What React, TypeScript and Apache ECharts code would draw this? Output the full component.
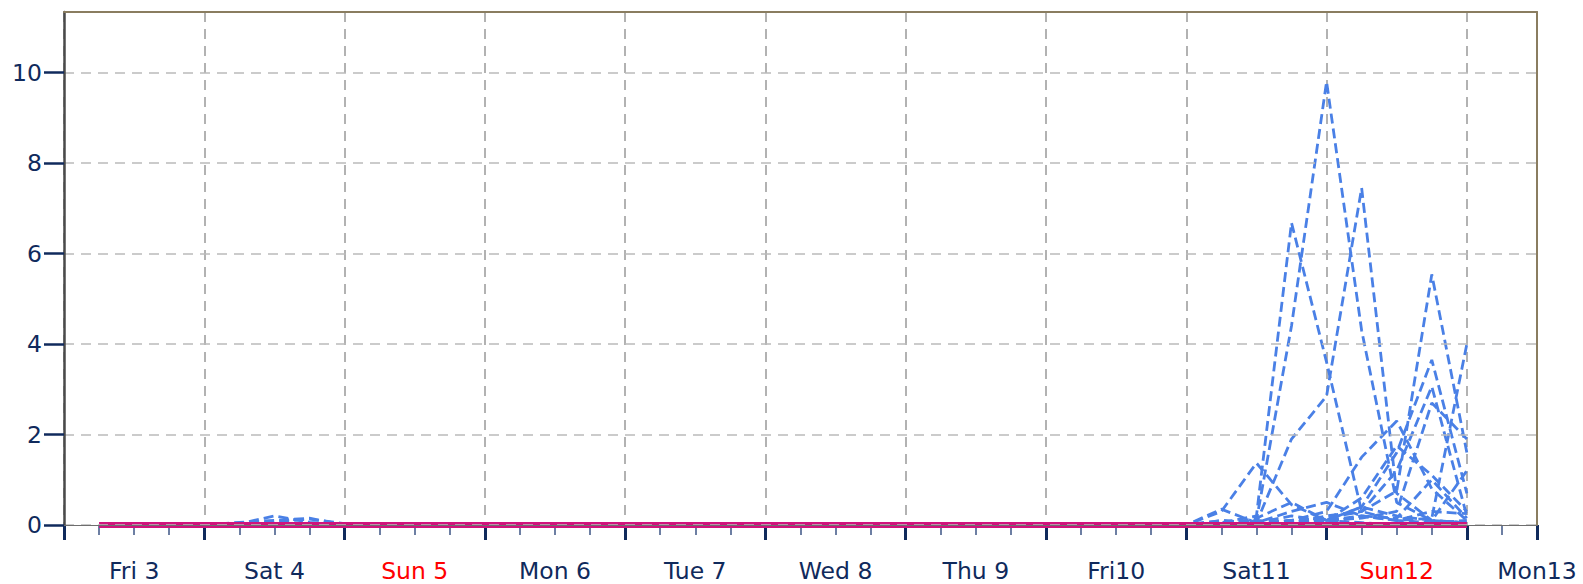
import React, { useEffect, useRef } from "react";
import * as echarts from "echarts";

// x values are hours since Fri 3 00:00
const labelHours = [12, 36, 60, 84, 108, 132, 156, 180, 204, 228, 252];
const labelTexts = ["Fri 3", "Sat 4", "Sun 5", "Mon 6", "Tue 7", "Wed 8", "Thu 9", "Fri10", "Sat11", "Sun12", "Mon13"];
const sundayLabels = ["Sun 5", "Sun12"];
const yTickValues = [0, 2, 4, 6, 8, 10];

// control run (magenta)
const controlHours = [6, 240];
const controlValues = [0, 0];

// ensemble members: small bump around Sat 4
const bumpHours = [24, 30, 36, 42, 48];
const bumpA = [0, 0.03, 0.2, 0.06, 0];
const bumpB = [0, 0.06, 0.1, 0.15, 0];
const bumpC = [0, 0, 0.07, 0.13, 0.03];
const bumpZero = [0, 0, 0, 0, 0];

// ensemble members: Fri10 18:00 .. Mon13 00:00
const tailHours = [186, 192, 198, 204, 210, 216, 222, 228, 234, 240];
const memberA = [0, 0, 0.05, 0.2, 6.68, 3.6, 0.3, 0.1, 0.05, 0];
const memberB = [0, 0, 0, 0.1, 4.4, 9.8, 4.3, 0.5, 0.1, 0.05];
const memberC = [0, 0, 0, 0.05, 1.9, 2.85, 7.45, 0.7, 0.1, 0.05];
const memberD = [0, 0, 0, 0, 0.1, 0.15, 0.3, 0.75, 5.54, 1.6];
const memberE = [0, 0, 0, 0, 0, 0.1, 0.2, 0.1, 0.15, 4.0];
const memberF = [0, 0, 0, 0, 0.05, 0.1, 0.4, 1.6, 3.65, 0.7];
const memberG = [0, 0, 0, 0.1, 0.05, 0.2, 0.3, 1.2, 3.06, 0.2];
const memberH = [0, 0, 0, 0, 0.1, 0.1, 0.15, 0.3, 2.7, 1.9];
const memberJ = [0, 0, 0.3, 1.37, 0.45, 0.1, 0.05, 0, 0.05, 0.1];
const memberK = [0, 0, 0, 0, 0.1, 0.3, 1.5, 2.3, 0.8, 0.1];
const memberL = [0, 0, 0.1, 0.05, 0.2, 0.1, 0.6, 1.75, 1.1, 0.3];
const memberM = [0, 0, 0.35, 0.05, 0.3, 0.5, 0.2, 0.15, 1.0, 0.15];
const memberN = [0, 0, 0.1, 0.05, 0.1, 0.05, 0.2, 0.1, 0.3, 0.25];
const memberO = [0, 0, 0, 0.15, 0.5, 0.1, 0.4, 0.2, 0.1, 1.2];

const members = [
  { bump: bumpA, tail: memberA },
  { bump: bumpB, tail: memberB },
  { bump: bumpC, tail: memberC },
  { bump: bumpZero, tail: memberD },
  { bump: bumpZero, tail: memberE },
  { bump: bumpZero, tail: memberF },
  { bump: bumpZero, tail: memberG },
  { bump: bumpZero, tail: memberH },
  { bump: bumpZero, tail: memberJ },
  { bump: bumpZero, tail: memberK },
  { bump: bumpZero, tail: memberL },
  { bump: bumpZero, tail: memberM },
  { bump: bumpZero, tail: memberN },
  { bump: bumpZero, tail: memberO },
];

const NAVY = "#102a5c";
const FONT = "DejaVu Sans";
const FS = 23.5;

export default function App() {
  const ref = useRef<HTMLDivElement>(null);
  useEffect(() => {
    if (!ref.current) return;
    const chart = echarts.init(ref.current, undefined, { renderer: "svg" });
    const xMin = 0;
    const xMax = 252;
    const yMax = 11.34;
    const blueSeries = members.map((m, i) => ({
      type: "line",
      name: "member" + i,
      xAxisIndex: 0,
      yAxisIndex: 0,
      showSymbol: false,
      symbol: "none",
      z: 3,
      lineStyle: { color: "#4a80e6", width: 2.8, type: [10, 5] },
      data: [
        ...bumpHours.map((h, k) => [h, m.bump[k]]),
        ...tailHours.map((h, k) => [h, m.tail[k]]),
      ],
    }));
    chart.setOption({
      animation: false,
      grid: { left: 64, right: 46, top: 12, bottom: 59, containLabel: false, outerBoundsMode: "none" },
      xAxis: [
        {
          type: "value",
          min: xMin,
          max: xMax,
          interval: 24,
          position: "bottom",
          axisLine: { show: false },
          axisTick: { show: true, length: 15, lineStyle: { color: NAVY, width: 3 } },
          minorTick: { show: true, splitNumber: 4, length: 10, lineStyle: { color: "#3d5585", width: 1.5 } },
          splitLine: { show: true, lineStyle: { color: "#999999", width: 1.5, type: [10, 7] } },
          axisLabel: {
            show: true,
            customValues: labelHours,
            margin: 34,
            formatter: (v: number) => {
              const idx = labelHours.indexOf(Math.round(v));
              if (idx < 0) return "";
              const t = labelTexts[idx];
              return sundayLabels.includes(t) ? "{r|" + t + "}" : "{n|" + t + "}";
            },
            rich: {
              n: { color: NAVY, fontSize: FS, fontFamily: FONT },
              r: { color: "#ff0000", fontSize: FS, fontFamily: FONT },
            },
          },
        },
        {
          type: "value",
          min: xMin,
          max: xMax,
          position: "bottom",
          z: 10,
          axisLine: { show: true, onZero: false, lineStyle: { color: "#6e6e6e", width: 1.2 } },
          axisTick: { show: false },
          axisLabel: { show: false },
          splitLine: { show: false },
        },
        {
          type: "value",
          min: xMin,
          max: xMax,
          position: "top",
          z: 10,
          axisLine: { show: true, onZero: false, lineStyle: { color: "#8a7d60", width: 2 } },
          axisTick: { show: false },
          axisLabel: { show: false },
          splitLine: { show: false },
        },
      ],
      yAxis: [
        {
          type: "value",
          min: 0,
          max: yMax,
          interval: 2,
          position: "left",
          z: 10,
          axisLine: { show: true, onZero: false, lineStyle: { color: "#4a4a4a", width: 2.5 } },
          axisTick: { show: true, length: 20, customValues: yTickValues, lineStyle: { color: NAVY, width: 2.5 } },
          axisLabel: {
            show: true,
            margin: 22,
            customValues: yTickValues,
            color: NAVY,
            fontSize: FS,
            fontFamily: FONT,
            formatter: (v: number) => (yTickValues.includes(Math.round(v * 100) / 100) ? String(v) : ""),
          },
          splitLine: { show: true, lineStyle: { color: "#bbbbbb", width: 1.5, type: [10, 7] } },
        },
        {
          type: "value",
          min: 0,
          max: yMax,
          position: "right",
          z: 10,
          axisLine: { show: true, onZero: false, lineStyle: { color: "#8a7d60", width: 2 } },
          axisTick: { show: false },
          axisLabel: { show: false },
          splitLine: { show: false },
        },
      ],
      series: [
        ...blueSeries,
        {
          type: "line",
          name: "control",
          xAxisIndex: 0,
          yAxisIndex: 0,
          showSymbol: false,
          symbol: "none",
          z: 5,
          lineStyle: { color: "#d0137c", width: 6 },
          data: controlHours.map((h, k) => [h, controlValues[k]]),
        },
      ],
    });
    return () => chart.dispose();
  }, []);
  return (
    <div
      ref={ref}
      style={{ position: "fixed", left: 0, top: 0, width: 1583, height: 584, background: "#ffffff" }}
    />
  );
}
